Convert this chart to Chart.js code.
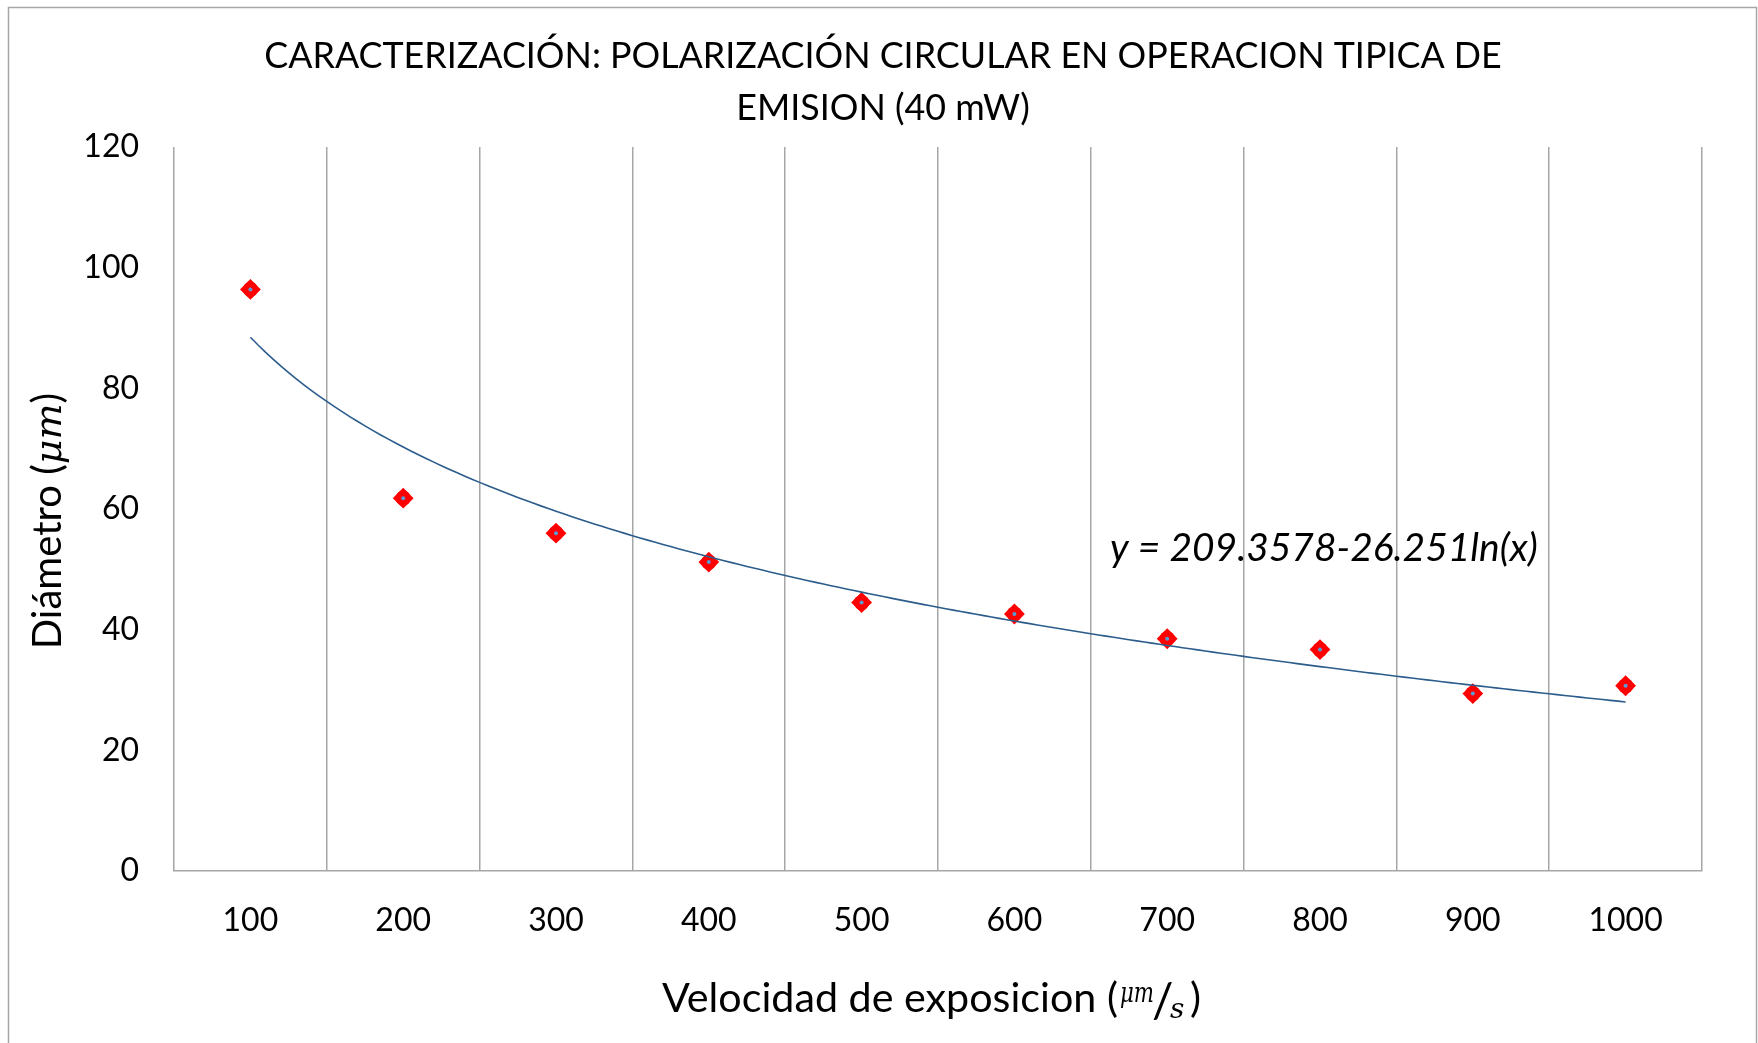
<!DOCTYPE html>
<html>
<head>
<meta charset="utf-8">
<script src="https://cdn.jsdelivr.net/npm/chart.js@4"></script>
<style>
  html, body { margin: 0; padding: 0; background: #ffffff; }
  #wrap { width: 1758px; height: 1043px; }
</style>
</head>
<body>
<div id="wrap"><canvas id="chart" width="1758" height="1043"></canvas></div>
<script>
// Exposure speed categories (µm/s)
const velocityLabels = ['100', '200', '300', '400', '500', '600', '700', '800', '900', '1000'];
const velocityValues = [100, 200, 300, 400, 500, 600, 700, 800, 900, 1000];
// Measured line diameter (µm)
const diameters = [96.4, 61.8, 56.0, 51.2, 44.5, 42.6, 38.5, 36.7, 29.4, 30.7];
// Y axis ticks
const yTickValues = [0, 20, 40, 60, 80, 100, 120];
// Logarithmic trend line coefficients: y = a - b ln(x)
const trendA = 209.3578;
const trendB = 26.251;

const titleLines = ['CARACTERIZACIÓN: POLARIZACIÓN CIRCULAR EN OPERACION TIPICA DE', 'EMISION (40 mW)'];
const yTitleText = 'Diámetro (';
const xTitleText = 'Velocidad de exposicion (';
const equationText = 'y = 209.3578-26.251ln(x)';

// Trend curve sampled over the data range
const trendPoints = [];
for (let v = velocityValues[0]; v <= velocityValues[velocityValues.length - 1]; v += 5) {
  trendPoints.push({ x: v, y: trendA - trendB * Math.log(v) });
}

const SANS = 'Lato, "Open Sans", sans-serif';
const SERIF = '"DejaVu Serif", "Liberation Serif", serif';

function fitFont(ctx, text, style, family, targetWidth) {
  ctx.font = `${style} 100px ${family}`;
  const w = ctx.measureText(text).width;
  return 100 * targetWidth / w;
}

const decorPlugin = {
  id: 'decor',
  beforeDraw(chart) {
    const ctx = chart.ctx;
    ctx.save();
    ctx.fillStyle = '#ffffff';
    ctx.fillRect(0, 0, chart.width, chart.height);
    ctx.strokeStyle = '#a6a6a6';
    ctx.lineWidth = 1.5;
    ctx.strokeRect(8.5, 7.5, 1748, 1060);
    ctx.restore();
  },
  afterDraw(chart) {
    const ctx = chart.ctx;
    ctx.save();
    ctx.fillStyle = '#000000';
    ctx.textBaseline = 'alphabetic';

    // Title (two lines)
    const tSize = fitFont(ctx, titleLines[0], '400', SANS, 1238);
    ctx.font = `400 ${tSize}px ${SANS}`;
    ctx.textAlign = 'center';
    ctx.fillText(titleLines[0], 883, 68);
    ctx.fillText(titleLines[1], 883, 120);

    // Y axis title, rotated
    ctx.save();
    ctx.translate(61, 521);
    ctx.rotate(-Math.PI / 2);
    ctx.textAlign = 'left';
    const ySize = 40;
    ctx.font = `400 ${ySize}px ${SANS}`;
    const wA = ctx.measureText(yTitleText).width;
    ctx.font = `italic 400 ${ySize * 0.95}px ${SERIF}`;
    const wB = ctx.measureText('μm').width;
    ctx.font = `400 ${ySize}px ${SANS}`;
    const wC = ctx.measureText(')').width;
    let x0 = -(wA + wB + wC) / 2;
    ctx.fillText(yTitleText, x0, 0);
    ctx.font = `italic 400 ${ySize * 0.95}px ${SERIF}`;
    ctx.fillText('μm', x0 + wA, 0);
    ctx.font = `400 ${ySize}px ${SANS}`;
    ctx.fillText(')', x0 + wA + wB, 0);
    ctx.restore();

    // X axis title with fraction-style unit
    ctx.textAlign = 'left';
    const xSize = fitFont(ctx, xTitleText, '400', SANS, 456);
    ctx.font = `400 ${xSize}px ${SANS}`;
    ctx.fillText(xTitleText, 662, 1012);
    // superscript numerator, squeezed to its slot
    ctx.font = `italic 400 27px ${SERIF}`;
    const muW = ctx.measureText('μm').width;
    ctx.save();
    ctx.translate(1120, 1002);
    ctx.scale(34 / muW, 1);
    ctx.fillText('μm', 0, 0);
    ctx.restore();
    ctx.font = `400 ${xSize * 1.15}px ${SANS}`;
    ctx.fillText('/', 1152, 1018);
    ctx.font = `italic 400 28px ${SERIF}`;
    ctx.fillText('s', 1170, 1018);
    ctx.font = `400 ${xSize}px ${SANS}`;
    ctx.fillText(')', 1190, 1012);

    // Trend equation
    const eSize = fitFont(ctx, equationText, 'italic 400', SANS, 428);
    ctx.font = `italic 400 ${eSize}px ${SANS}`;
    ctx.fillText(equationText, 1110, 561);

    ctx.restore();
  }
};

new Chart(document.getElementById('chart'), {
  type: 'line',
  data: {
    labels: velocityLabels,
    datasets: [
      {
        label: 'Tendencia',
        data: trendPoints,
        xAxisID: 'xt',
        yAxisID: 'y',
        borderColor: '#2b5c8c',
        borderWidth: 1.6,
        pointRadius: 0,
        fill: false,
        tension: 0,
        order: 0
      },
      {
        label: 'Centro',
        data: diameters,
        xAxisID: 'x',
        yAxisID: 'y',
        showLine: false,
        pointStyle: 'circle',
        pointRadius: 2,
        pointBackgroundColor: '#5b9bd5',
        pointBorderWidth: 0,
        order: 1
      },
      {
        label: 'Diámetro',
        data: diameters,
        xAxisID: 'x',
        yAxisID: 'y',
        showLine: false,
        pointStyle: 'rectRot',
        pointRadius: 9,
        pointBackgroundColor: '#ff0000',
        pointBorderColor: '#ff0000',
        pointBorderWidth: 2,
        order: 2
      },
      {
        label: 'Diámetro (contorno)',
        data: diameters,
        xAxisID: 'x',
        yAxisID: 'y',
        showLine: false,
        pointStyle: 'circle',
        pointRadius: 7.6,
        pointBackgroundColor: '#ff0000',
        pointBorderWidth: 0,
        order: 3
      }
    ]
  },
  options: {
    responsive: false,
    animation: false,
    events: [],
    layout: { padding: { top: 147, right: 56, left: 0, bottom: 0 } },
    plugins: {
      legend: { display: false },
      tooltip: { enabled: false },
      title: { display: false }
    },
    elements: { line: { borderJoinStyle: 'round' }, point: { hitRadius: 0 } },
    scales: {
      x: {
        type: 'category',
        position: 'bottom',
        offset: true,
        grid: { display: true, offset: true, color: '#a6a6a6', lineWidth: 1.5, drawTicks: false },
        border: { display: true, color: '#a6a6a6', width: 1.5 },
        ticks: { color: '#000000', font: { family: SANS, size: 32 }, padding: 30, maxRotation: 0, autoSkip: false },
        afterFit: (s) => { s.height = 172; }
      },
      xt: {
        type: 'linear',
        display: false,
        min: 50,
        max: 1050
      },
      y: {
        type: 'linear',
        min: 0,
        max: 120,
        afterBuildTicks: (s) => { s.ticks = yTickValues.map(v => ({ value: v })); },
        grid: { display: false },
        border: { display: false },
        ticks: { color: '#000000', font: { family: SANS, size: 32 }, padding: 27 },
        afterFit: (s) => { s.width = 174; }
      }
    }
  },
  plugins: [decorPlugin]
});
</script>
</body>
</html>
